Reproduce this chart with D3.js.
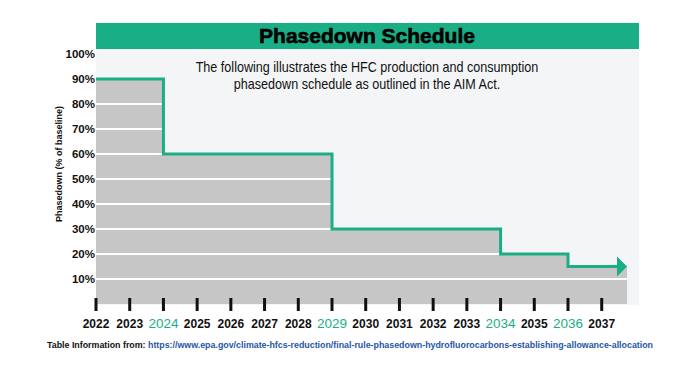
<!DOCTYPE html>
<html>
<head>
<meta charset="utf-8">
<script src="https://cdn.jsdelivr.net/npm/d3@7"></script>
<style>
  body { margin: 0; background: #fff; }
  svg { display: block; font-family: "Liberation Sans", Arial, sans-serif; }
</style>
</head>
<body>
<div id="chart"></div>
<script>
const width = 700;
const height = 370;

// data
const years = ["2022", "2023", "2024", "2025", "2026", "2027", "2028", "2029",
  "2030", "2031", "2032", "2033", "2034", "2035", "2036", "2037"];
const highlightYears = ["2024", "2029", "2034", "2036"];
const stepYears = [2022, 2024, 2029, 2034, 2036];
const stepValues = [90, 60, 30, 20, 15];
const yTicks = [10, 20, 30, 40, 50, 60, 70, 80, 90, 100];
const gridValues = [10, 20, 30, 40, 50, 60, 70, 80];
const endYear = 2037.75;

const green = "#1aae86";
const grey = "#c6c6c6";

const svg = d3.select("#chart").append("svg")
    .attr("width", width)
    .attr("height", height);

const x = d3.scaleLinear().domain([2022, endYear]).range([96, 627]);
const y = d3.scaleLinear().domain([0, 100]).range([304, 54]);

// header + panel
svg.append("rect").attr("x", 96).attr("y", 49).attr("width", 543).attr("height", 256)
    .attr("fill", "#f4f5f7");
svg.append("rect").attr("x", 96).attr("y", 23).attr("width", 543).attr("height", 26)
    .attr("fill", green);
svg.append("text").attr("x", 367).attr("y", 43)
    .attr("text-anchor", "middle")
    .style("font-size", "21px").style("font-weight", "bold")
    .attr("fill", "#000").attr("stroke", "#000").attr("stroke-width", 0.6)
    .text("Phasedown Schedule");

// subtitle, squeezed to look like a narrow face
const sub = svg.append("g").attr("transform", "translate(367,0) scale(0.9,1)")
  .append("text")
    .attr("text-anchor", "middle")
    .style("font-size", "14px").attr("fill", "#111");
sub.append("tspan").attr("x", 0).attr("y", 72)
    .text("The following illustrates the HFC production and consumption");
sub.append("tspan").attr("x", 0).attr("y", 89)
    .text("phasedown schedule as outlined in the AIM Act.");

// stepped data
const pts = stepYears.map((yr, i) => ({ yr: yr, v: stepValues[i] }));
const areaPts = pts.concat([{ yr: endYear, v: stepValues[stepValues.length - 1] }]);

const area = d3.area()
    .curve(d3.curveStepAfter)
    .x(d => x(d.yr))
    .y0(y(0))
    .y1(d => y(d.v));

svg.append("clipPath").attr("id", "areaClip")
  .append("path").attr("d", area(areaPts));

svg.append("path").attr("d", area(areaPts)).attr("fill", grey);

svg.append("g").attr("clip-path", "url(#areaClip)")
  .selectAll("line").data(gridValues).enter().append("line")
    .attr("x1", x(2022)).attr("x2", x(endYear))
    .attr("y1", d => y(d)).attr("y2", d => y(d))
    .attr("stroke", "#fff").attr("stroke-width", 2);

// step line with arrow
const arrowLen = 9;
const linePts = pts.concat([{ yr: x.invert(x(endYear) - arrowLen), v: stepValues[stepValues.length - 1] }]);
const line = d3.line().curve(d3.curveStepAfter).x(d => x(d.yr)).y(d => y(d.v));
svg.append("path").attr("d", line(linePts))
    .attr("fill", "none").attr("stroke", green).attr("stroke-width", 3);

const lastV = y(stepValues[stepValues.length - 1]);
svg.append("path")
    .attr("d", `M${x(endYear) - arrowLen - 1},${lastV - 10}L${x(endYear)},${lastV}L${x(endYear) - arrowLen - 1},${lastV + 10}Z`)
    .attr("fill", green);

// y axis labels
svg.append("g").selectAll("text").data(yTicks).enter().append("text")
    .attr("x", 95).attr("y", d => y(d)).attr("dy", "0.35em")
    .attr("text-anchor", "end")
    .style("font-size", "11.5px").style("font-weight", "bold").attr("fill", "#111")
    .text(d => d + "%");

svg.append("text")
    .attr("transform", "translate(62,164) rotate(-90)")
    .attr("text-anchor", "middle")
    .style("font-size", "9px").style("font-weight", "bold").attr("fill", "#111")
    .text("Phasedown (% of baseline)");

// x axis ticks + labels
const xt = svg.append("g").selectAll("g").data(years).enter().append("g")
    .attr("transform", d => `translate(${x(+d)},0)`);
xt.append("rect").attr("x", -1.5).attr("y", 298).attr("width", 3).attr("height", 13)
    .attr("fill", "#111");
xt.append("text").attr("y", 328).attr("text-anchor", "middle")
    .style("font-size", d => highlightYears.includes(d) ? "13.5px" : "12px")
    .style("font-weight", d => highlightYears.includes(d) ? "normal" : "bold")
    .attr("fill", d => highlightYears.includes(d) ? green : "#111")
    .text(d => d);

// footer
const foot = svg.append("text").attr("x", 47).attr("y", 348)
    .style("font-size", "8.6px")
    .attr("textLength", 606).attr("lengthAdjust", "spacingAndGlyphs");
foot.append("tspan").style("font-weight", "bold").attr("fill", "#111")
    .text("Table Information from: ");
foot.append("tspan").attr("fill", "#1f56a8").style("font-weight", "bold")
    .text("https://www.epa.gov/climate-hfcs-reduction/final-rule-phasedown-hydrofluorocarbons-establishing-allowance-allocation");
</script>
</body>
</html>
